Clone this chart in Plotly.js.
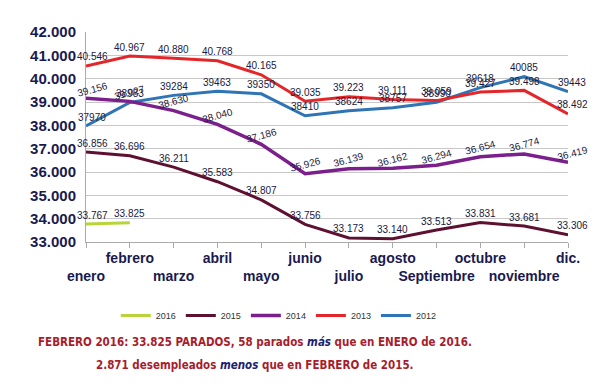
<!DOCTYPE html>
<html><head><meta charset="utf-8">
<script src="https://cdn.plot.ly/plotly-3.0.1.min.js"></script>
<style>body{margin:0;background:#fff}#c{width:600px;height:388px}</style>
</head><body><div id="c"></div>
<script>
const months = ["enero","febrero","marzo","abril","mayo","junio","julio","agosto","Septiembre","octubre","noviembre","dic."];
const years = ["2016","2015","2014","2013","2012"];
const v2016 = [33767, 33825];
const v2015 = [36856, 36696, 36211, 35583, 34807, 33756, 33173, 33140, 33513, 33831, 33681, 33306];
const v2014 = [39156, 39027, 38630, 38040, 37186, 35926, 36139, 36162, 36294, 36654, 36774, 36419];
const v2013 = [40546, 40967, 40880, 40768, 40165, 39035, 39223, 39111, 39059, 39427, 39498, 38492];
const v2012 = [37970, 38983, 39284, 39463, 39350, 38410, 38624, 38757, 38990, 39618, 40085, 39443];
const yTicks = [33000, 34000, 35000, 36000, 37000, 38000, 39000, 40000, 41000, 42000];

const series = [v2016, v2015, v2014, v2013, v2012];
const colors = ["#b8d43a", "#5e1030", "#7a1f8c", "#e3262a", "#2f74b5"];
const widths = [3, 3, 3.5, 3, 3];
const idx = months.map((m, i) => i);

const traces = series.map((vals, k) => ({
  x: idx.slice(0, vals.length), y: vals, type: "scatter", mode: "lines",
  name: years[k], line: {color: colors[k], width: widths[k]}
}));
traces.reverse();

const fmt = v => v.toLocaleString("de-DE");
const ann = [];
series.forEach((vals, k) => {
  vals.forEach((v, i) => {
    const is2012 = years[k] === "2012";
    const is2014 = years[k] === "2014";
    ann.push({
      x: i, y: v, xref: "x", yref: "y", showarrow: false,
      text: is2012 ? String(v) : fmt(v),
      yshift: 9, xshift: (i === 0 ? 6 : 0) + (i === 11 ? 4 : 0),
      textangle: is2014 ? -15 : 0,
      font: {family: "Liberation Sans, Arial, sans-serif", size: 10, color: "#1a1a40"}
    });
  });
});

const red = "#a81c2c", navy = "#1c2170";
const noteFont = {family: "DejaVu Sans Condensed, Liberation Sans Narrow, sans-serif", size: 11.5, color: red};
ann.push({xref: "paper", yref: "paper", x: 0.35, y: -0.52, showarrow: false,
  text: "<b>FEBRERO 2016: 33.825 PARADOS, 58 parados <i><span style='color:" + navy + "'>más</span></i> que en ENERO de 2016.</b>",
  font: noteFont});
ann.push({xref: "paper", yref: "paper", x: 0.35, y: -0.63, showarrow: false,
  text: "<b>2.871 desempleados <i><span style='color:" + navy + "'>menos</span></i> que en FEBRERO de 2015.</b>",
  font: noteFont});

const tickText = months.map((m, i) => i % 2 === 1 ? m : " <br>" + m);

const layout = {
  width: 600, height: 388, separators: ",.",
  margin: {l: 86, r: 32, t: 32, b: 146},
  paper_bgcolor: "#fff", plot_bgcolor: "#fff",
  showlegend: true,
  legend: {orientation: "h", x: 0.40, xanchor: "center", y: -0.35, yanchor: "middle",
    traceorder: "reversed", font: {family: "Liberation Sans, Arial, sans-serif", size: 9, color: "#333"}},
  xaxis: {range: [0, 11], tickvals: idx, ticktext: tickText, tickangle: 0, automargin: false,
    showgrid: false, zeroline: false, ticklabelstandoff: -2,
    showline: true, linecolor: "#aaa", ticks: "outside", ticklen: 5, tickcolor: "#aaa",
    tickfont: {family: "Liberation Sans, Arial, sans-serif", size: 14, color: "#1a1a4e", weight: "bold"}},
  yaxis: {range: [33000, 42000], tickvals: yTicks, tickformat: ",d", showgrid: true, gridcolor: "#c8c8c8",
    zeroline: false, showline: true, linecolor: "#aaa", ticklabelstandoff: 6, automargin: false,
    tickfont: {family: "Liberation Sans, Arial, sans-serif", size: 15, color: "#1a1a4e", weight: "bold"}},
  annotations: ann
};
Plotly.newPlot("c", traces, layout, {staticPlot: true});
</script></body></html>
